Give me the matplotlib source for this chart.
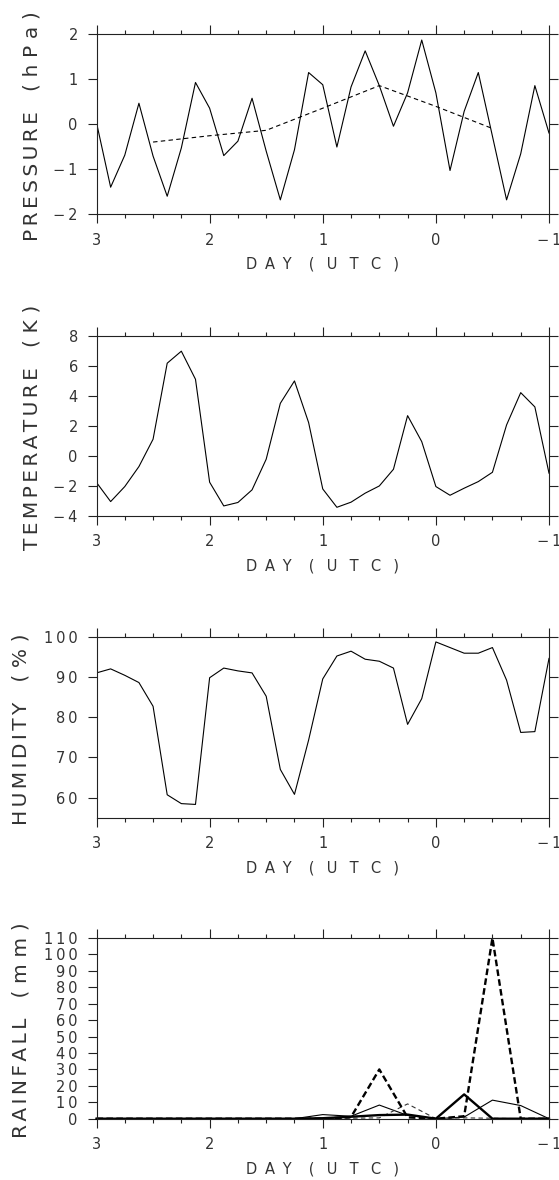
import numpy as np
import matplotlib
matplotlib.use("Agg")
import matplotlib.pyplot as plt
from matplotlib.ticker import MultipleLocator, FixedLocator

plt.rcParams['font.family'] = ['DejaVu Sans']

# ---------------- data ----------------
days3h = np.linspace(3, -1, 33)          # 3-hourly time axis (day)
days6h = np.linspace(3, -1, 17)          # 6-hourly time axis (day)

pressure = [0.03, -1.40, -0.69, 0.46, -0.71, -1.60, -0.53, 0.92, 0.35, -0.70,
            -0.38, 0.57, -0.60, -1.68, -0.57, 1.14, 0.87, -0.51, 0.82, 1.62,
            0.85, -0.05, 0.69, 1.86, 0.69, -1.03, 0.28, 1.14, -0.27, -1.68,
            -0.66, 0.85, -0.20]
pressure_mean_days = [2.5, 2.0, 1.5, 1.0, 0.5, 0.0, -0.5]
pressure_mean = [-0.40, -0.26, -0.14, 0.35, 0.85, 0.39, -0.10]

temperature = [-1.77, -3.04, -2.04, -0.71, 1.11, 6.17, 6.97, 5.10, -1.75, -3.33,
               -3.10, -2.26, -0.22, 3.50, 4.99, 2.22, -2.20, -3.42, -3.08, -2.48,
               -2.00, -0.89, 2.68, 0.95, -2.04, -2.62, -2.15, -1.71, -1.09, 2.06,
               4.21, 3.26, -1.15]

humidity = [91.0, 92.0, 90.4, 88.6, 82.7, 60.7, 58.5, 58.3, 89.8, 92.2,
            91.5, 91.0, 85.2, 67.0, 60.8, 74.3, 89.5, 95.2, 96.4, 94.4,
            93.9, 92.2, 78.2, 84.6, 98.7, 97.3, 95.9, 95.9, 97.3, 89.2,
            76.2, 76.4, 94.6]

rain_a = [0, 0, 0, 0, 0, 0, 0, 0, 0, 1.0, 30.0, 0.8, 0, 1.5, 110.0, 0, 0]   # thick dashed
rain_b = [0, 0, 0, 0, 0, 0, 0, 0, 2.5, 1.5, 8.3, 2.0, 0, 1.0, 11.3, 8.0, 0]  # thin solid
rain_c = [0, 0, 0, 0, 0, 0, 0, 0, 0.3, 1.2, 2.2, 2.5, 0, 14.8, 0, 0, 0]     # thick solid
rain_d = [0, 0, 0, 0, 0, 0, 0, 0, 0, 0.3, 0.5, 9.0, 0, 0.5, 0.3, 0, 0]      # thin dashed

xticks = [3, 2, 1, 0, -1]
pressure_ticks = [2, 1, 0, -1, -2]
temperature_ticks = [8, 6, 4, 2, 0, -2, -4]
humidity_ticks = [100, 90, 80, 70, 60]
rain_ticks = list(range(0, 111, 10))

ylabel_words = [('PRESSURE', '(hPa)'), ('TEMPERATURE', '(K)'),
                ('HUMIDITY', '(%)'), ('RAINFALL', '(mm)')]
xlabel_words = ('DAY', '(UTC)')

# ---------------- helpers ----------------
SEP_NARROW = '\u2006'      # 1/6 em
SEP_MED = '\u2004'         # 1/3 em
SEP_WIDE = '\u2003'        # 1 em

def spaced(word, sep):
    return sep.join(word)

def tick_fmt(v):
    s = str(v).replace('-', '\u2212')
    return '\u2009'.join(s)

# ---------------- layout ----------------
W, H = 559, 1180
fig = plt.figure(figsize=(W / 100, H / 100), dpi=100)

left_px, right_px = 96.5, 549.0
panels_px = [(33.7, 214.3), (335.7, 516.0), (636.7, 817.7), (938.0, 1118.7)]
ylabel_x_px = [32, 32, 21, 21]

axes = []
for (top, bot) in panels_px:
    ax = fig.add_axes([left_px / W, 1 - bot / H, (right_px - left_px) / W, (bot - top) / H])
    axes.append(ax)

def style(ax, words, lx, top, bot):
    ax.set_xlim(3, -1)
    ax.xaxis.set_major_locator(FixedLocator(xticks))
    ax.set_xticklabels([tick_fmt(v) for v in xticks])
    ax.xaxis.set_minor_locator(MultipleLocator(0.25))
    ax.tick_params(axis='x', which='major', direction='out', length=6.2, width=0.8,
                   top=True, bottom=True, labelsize=10.5, pad=7.0, color='#222222')
    ax.tick_params(axis='x', which='minor', direction='out', length=3.2, width=0.8,
                   top=True, bottom=True, color='#222222')
    ax.tick_params(axis='y', which='major', direction='out', length=6.7, width=0.8,
                   left=True, right=True, labelsize=10.5, pad=6.8, color='#222222')
    ax.tick_params(axis='y', which='minor', left=False, right=False)
    for s in ax.spines.values():
        s.set_linewidth(0.8)
        s.set_color('#222222')
    for lab in ax.get_xticklabels() + ax.get_yticklabels():
        lab.set_color('#333333')
    xl = (spaced(xlabel_words[0], '\u2004\u2009') + '\u2003\u2006' +
          spaced(xlabel_words[1], '\u2002\u2004'))
    ax.text(0.5, -50 / (bot - top), xl, transform=ax.transAxes,
            ha='center', va='center', fontsize=10.5, color='#333333')
    yl = (spaced(words[0], SEP_NARROW) + SEP_WIDE + spaced(words[1], SEP_MED))
    fig.text(lx / W, 1 - ((top + bot) / 2 + 2) / H, yl, rotation=90, ha='center',
             va='center', fontsize=14.5, color='#333333')

lw_thin = 0.8
lw_thick = 1.7

# Pressure
ax = axes[0]
ax.plot(days3h, pressure, color='black', lw=lw_thin)
ax.plot(pressure_mean_days, pressure_mean, color='black', lw=lw_thin, ls=(0, (4, 3)))
ax.set_ylim(-2, 2)
ax.set_yticks(pressure_ticks)
ax.set_yticklabels([tick_fmt(v) for v in pressure_ticks])

# Temperature
ax = axes[1]
ax.plot(days3h, temperature, color='black', lw=lw_thin)
ax.set_ylim(-4, 8)
ax.set_yticks(temperature_ticks)
ax.set_yticklabels([tick_fmt(v) for v in temperature_ticks])

# Humidity
ax = axes[2]
ax.plot(days3h, humidity, color='black', lw=lw_thin)
ax.set_ylim(55, 100)
ax.set_yticks(humidity_ticks)
ax.set_yticklabels([tick_fmt(v) for v in humidity_ticks])

# Rainfall
ax = axes[3]
ax.plot(days6h, rain_b, color='black', lw=lw_thin, clip_on=False)
ax.plot(days6h, rain_d, color='#333333', lw=lw_thin, ls=(0, (4, 3)), clip_on=False)
ax.plot(days6h, rain_c, color='black', lw=lw_thick, clip_on=False)
ax.plot(days6h, rain_a, color='black', lw=lw_thick, ls=(0, (2.8, 1.4)), clip_on=False)
ax.set_ylim(0, 110)
ax.set_yticks(rain_ticks)
ax.set_yticklabels([tick_fmt(v) for v in rain_ticks])

for ax, words, lx, (top, bot) in zip(axes, ylabel_words, ylabel_x_px, panels_px):
    style(ax, words, lx, top, bot)

fig.savefig('out.png', dpi=100)
